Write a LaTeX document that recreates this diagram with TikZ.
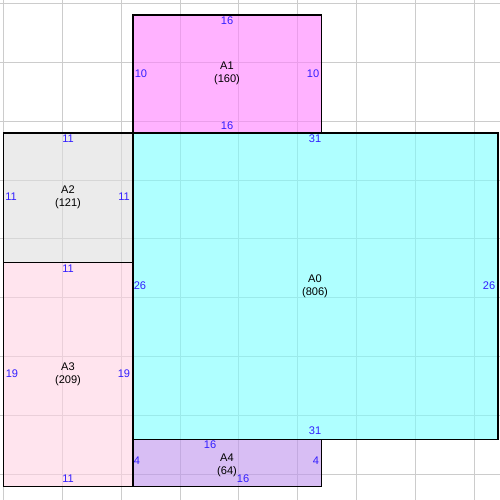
\documentclass[tikz,border=0pt]{standalone}
\usepackage{fontspec}
\setmainfont{Liberation Sans}
\definecolor{lbl}{RGB}{50,30,255}
\definecolor{cA0}{RGB}{123,255,255}
\definecolor{cA1}{RGB}{255,128,255}
\definecolor{cA2}{RGB}{222,222,222}
\definecolor{cA3}{RGB}{255,210,227}
\definecolor{cA4}{RGB}{190,148,238}
\begin{document}
\begin{tikzpicture}[x=0.75pt,y=-0.75pt,
  gridline/.style={draw={rgb,255:red,204;green,204;blue,204},line width=0.75pt},
  room/.style={fill opacity=0.6,draw=none},
  edge/.style={draw=black,line width=1pt},
  dim/.style={text=lbl,inner sep=0pt,font=\fontsize{8.3}{10}\selectfont},
  nm/.style={text=black,inner sep=0pt,align=center,font=\fontsize{8.3}{9.75}\selectfont}]
\useasboundingbox (0,0) rectangle (500,500);
\fill[white] (0,0) rectangle (500,500);
% grid
\foreach \k in {0,...,8}{
  \draw[gridline] ({3.3+58.9*\k},0) -- ({3.3+58.9*\k},500);
  \draw[gridline] (0,{3.3+58.9*\k}) -- (500,{3.3+58.9*\k});
}
% fills
\fill[room,cA1] (133,15.1) rectangle (321.4,133);
\fill[room,cA0] (133,133) rectangle (498,439.2);
\fill[room,cA2] (3.3,133) rectangle (133,262.5);
\fill[room,cA3] (3.3,262.5) rectangle (133,486.3);
\fill[room,cA4] (133,439.2) rectangle (321.4,486.3);
% borders
\draw[edge] (133,15.1) rectangle (321.4,133);
\draw[edge] (133,133) rectangle (498,439.2);
\draw[edge] (3.3,133) rectangle (133,262.5);
\draw[edge] (3.3,262.5) rectangle (133,486.3);
\draw[edge] (133,439.2) rectangle (321.4,486.3);
% A1
\node[nm] (nA1) at (227,73.5) {A1\\(160)};
\node[dim] (a1t) at (227,21) {16};
\node[dim] (a1l) at (141,74) {10};
\node[dim] (a1r) at (313,74) {10};
\node[dim] (a1b) at (227,126) {16};
% A2
\node[nm] (nA2) at (68,197) {A2\\(121)};
\node[dim] (a2t) at (68,139) {11};
\node[dim] (a2l) at (11,197) {11};
\node[dim] (a2r) at (124,197) {11};
% A3
\node[nm] (nA3) at (68,374) {A3\\(209)};
\node[dim] (a3t) at (68,269) {11};
\node[dim] (a3l) at (12,374) {19};
\node[dim] (a3r) at (124,374) {19};
\node[dim] (a3b) at (68,479) {11};
% A0
\node[nm] (nA0) at (315,286) {A0\\(806)};
\node[dim] (a0t) at (315,139) {31};
\node[dim] (a0l) at (140,286) {26};
\node[dim] (a0r) at (489,286) {26};
\node[dim] (a0b) at (315,431) {31};
% A4
\node[nm] (nA4) at (227,465.5) {A4\\(64)};
\node[dim] (a4t) at (210,445) {16};
\node[dim] (a4l) at (137,461) {4};
\node[dim] (a4r) at (316,461) {4};
\node[dim] (a4b) at (243,479) {16};
\end{tikzpicture}
\end{document}
